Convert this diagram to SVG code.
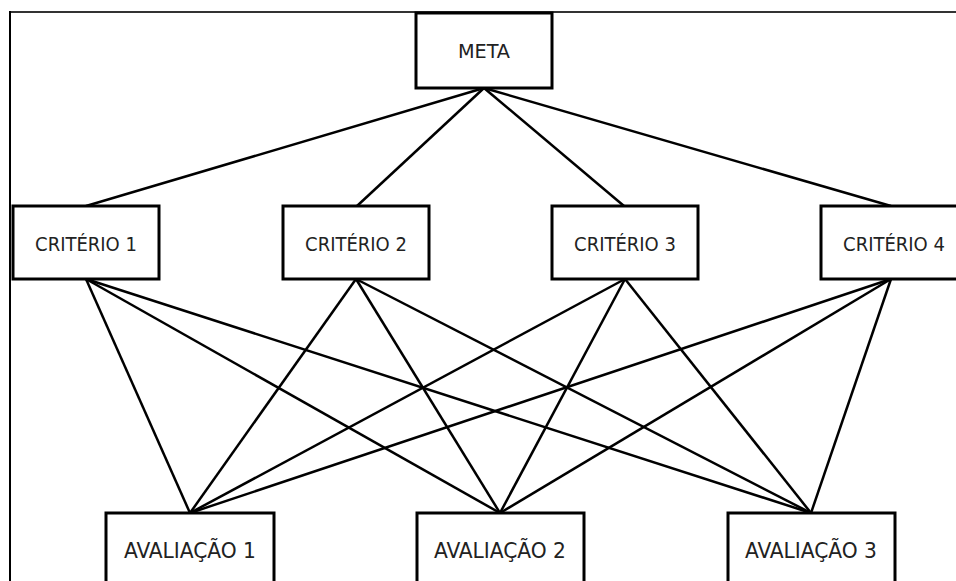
<svg xmlns="http://www.w3.org/2000/svg" width="956" height="581" viewBox="0 0 956 581">
<style>
.box{fill:#fff;stroke:#000;stroke-width:3}
.lbl{font-family:"DejaVu Sans Condensed","DejaVu Sans",sans-serif;font-size:20px;fill:#222;text-anchor:middle}
.av{font-size:21px}
.edge{stroke:#000;stroke-width:2.5;fill:none}
</style>
<rect width="956" height="581" fill="#fff"/>
<g id="frame">
<line x1="10" y1="12" x2="956" y2="12" stroke="#333" stroke-width="2"/>
<line x1="10" y1="11" x2="10" y2="581" stroke="#000" stroke-width="2"/>
</g>
<g id="connectors" class="edge">
<line x1="484" y1="88" x2="86" y2="206"/>
<line x1="484" y1="88" x2="357" y2="206"/>
<line x1="484" y1="88" x2="624" y2="206"/>
<line x1="484" y1="88" x2="891" y2="206"/>
<line x1="86" y1="279" x2="190" y2="513"/>
<line x1="86" y1="279" x2="500" y2="513"/>
<line x1="86" y1="279" x2="811" y2="513"/>
<line x1="356" y1="279" x2="190" y2="513"/>
<line x1="356" y1="279" x2="500" y2="513"/>
<line x1="356" y1="279" x2="811" y2="513"/>
<line x1="625" y1="279" x2="190" y2="513"/>
<line x1="625" y1="279" x2="500" y2="513"/>
<line x1="625" y1="279" x2="811" y2="513"/>
<line x1="891" y1="279" x2="190" y2="513"/>
<line x1="891" y1="279" x2="500" y2="513"/>
<line x1="891" y1="279" x2="811" y2="513"/>
</g>
<g id="meta"><rect class="box" x="416" y="13" width="136" height="75"/><text class="lbl" x="484" y="58" textLength="52" lengthAdjust="spacingAndGlyphs">META</text></g>
<g id="criterio1"><rect class="box" x="13" y="206" width="146" height="73"/><text class="lbl" x="86" y="251">CRITÉRIO 1</text></g>
<g id="criterio2"><rect class="box" x="283" y="206" width="146" height="73"/><text class="lbl" x="356" y="251">CRITÉRIO 2</text></g>
<g id="criterio3"><rect class="box" x="552" y="206" width="146" height="73"/><text class="lbl" x="625" y="251">CRITÉRIO 3</text></g>
<g id="criterio4"><rect class="box" x="821" y="206" width="146" height="73"/><text class="lbl" x="894" y="251">CRITÉRIO 4</text></g>
<g id="avaliacao1"><rect class="box" x="106" y="513" width="168" height="75"/><text class="lbl av" x="190" y="558" textLength="132" lengthAdjust="spacingAndGlyphs">AVALIAÇÃO 1</text></g>
<g id="avaliacao2"><rect class="box" x="417" y="513" width="167" height="75"/><text class="lbl av" x="500" y="558" textLength="132" lengthAdjust="spacingAndGlyphs">AVALIAÇÃO 2</text></g>
<g id="avaliacao3"><rect class="box" x="728" y="513" width="167" height="75"/><text class="lbl av" x="811" y="558" textLength="132" lengthAdjust="spacingAndGlyphs">AVALIAÇÃO 3</text></g>
</svg>
